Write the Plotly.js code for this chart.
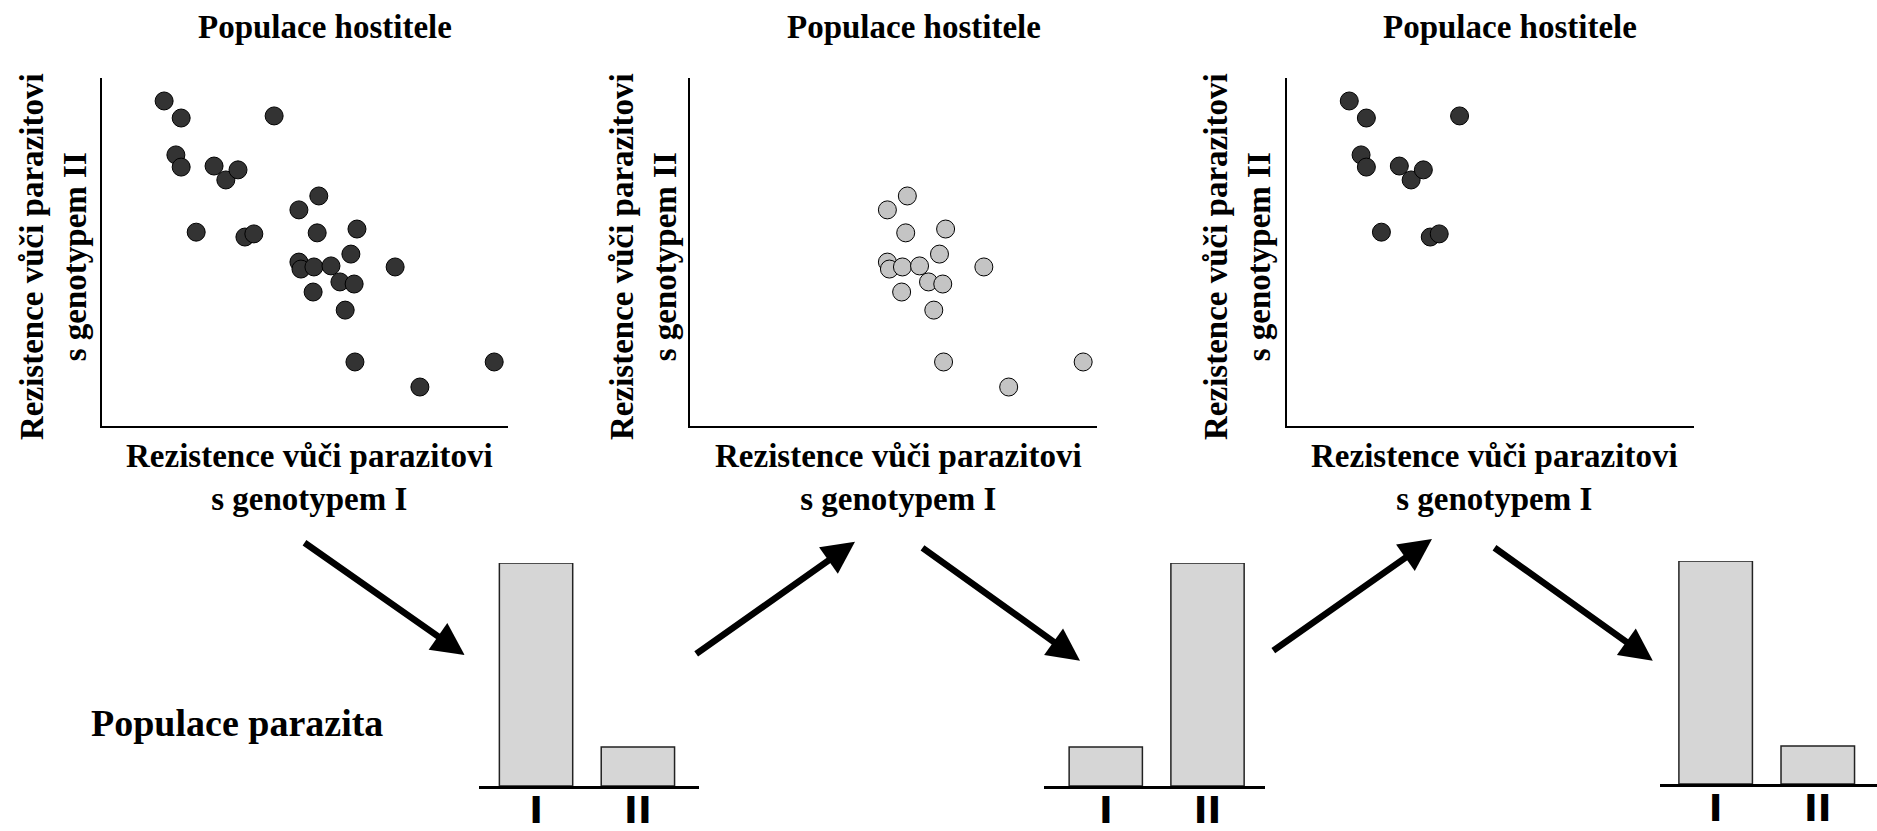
<!DOCTYPE html>
<html><head><meta charset="utf-8">
<script src="https://cdn.plot.ly/plotly-3.0.1.min.js"></script>
<style>html,body{margin:0;padding:0;background:#fff;overflow:hidden}</style>
</head><body><div id="chart" style="width:1877px;height:831px"></div>
<script>
// ---- data ----
// host individuals resistant mostly to parasite genotype II (upper-left cluster)
const hostA_x = [15.3, 19.5, 42.4, 18.2, 19.5, 27.6, 30.5, 33.5, 23.2, 35.2, 37.4];
const hostA_y = [93.4, 88.5, 89.1, 77.9, 74.4, 74.7, 70.7, 73.6, 55.7, 54.3, 55.2];
// host individuals resistant mostly to parasite genotype I (lower-right cluster)
const hostB_x = [53.4, 48.5, 53.0, 62.8, 61.3, 48.5, 49.0, 52.2, 56.4, 58.6, 62.1, 72.2, 52.0, 59.9, 62.3, 96.6, 78.3];
const hostB_y = [66.1, 62.1, 55.5, 56.6, 49.4, 47.1, 45.1, 45.7, 46.0, 41.4, 40.8, 45.7, 38.5, 33.3, 18.4, 18.4, 11.2];
// parasite genotype frequencies
const genotypes = ['I', 'II'];
const parasite1 = [100, 17.5];
const parasite2 = [17.5, 100];
const parasite3 = [100, 17];
// texts
const panelTitle = 'Populace hostitele';
const xTitle = 'Rezistence vůči parazitovi<br>s genotypem I';
const yTitle = 'Rezistence vůči parazitovi<br>s genotypem II';
const parasiteLabel = 'Populace parazita';

// ---- layout helpers ----
const W = 1877, H = 831;
const px = v => v / W;
const py = v => 1 - v / H;
const SERIF = 'Liberation Serif, Times New Roman, serif';
const SANS = 'DejaVu Sans, Arial, sans-serif';
const DARK = '#333333', LIGHT = '#c4c4c4';

function scatter(xs, ys, color, n) {
  return {type: 'scatter', mode: 'markers', x: xs, y: ys,
    xaxis: 'x' + n, yaxis: 'y' + n, cliponaxis: false, hoverinfo: 'skip',
    marker: {size: 18, color: color, line: {color: '#000', width: 1}}};
}
function bars(vals, n) {
  return {type: 'bar', x: genotypes, y: vals, xaxis: 'x' + n, yaxis: 'y' + n,
    width: 0.72, hoverinfo: 'skip',
    marker: {color: '#d6d6d6', line: {color: '#222', width: 1.5}}};
}
const traces = [
  scatter(hostA_x.concat(hostB_x), hostA_y.concat(hostB_y), DARK, ''),
  scatter(hostB_x, hostB_y, LIGHT, '2'),
  scatter(hostA_x, hostA_y, DARK, '3'),
  bars(parasite1, '4'), bars(parasite2, '5'), bars(parasite3, '6')
];
traces[0].xaxis = 'x'; traces[0].yaxis = 'y';

function scAxisX(l, r, anchor) {
  return {domain: [px(l), px(r)], range: [0, 100], anchor: anchor, showline: true,
    linecolor: '#000', linewidth: 2, ticks: '', showticklabels: false,
    showgrid: false, zeroline: false, fixedrange: true};
}
function scAxisY(anchor) {
  return {domain: [py(426), py(78)], range: [0, 100], anchor: anchor, showline: true,
    linecolor: '#000', linewidth: 2, ticks: '', showticklabels: false,
    showgrid: false, zeroline: false, fixedrange: true};
}
function barAxisX(l, r, rng, anchor) {
  return {domain: [px(l), px(r)], range: rng, anchor: anchor, type: 'category',
    showline: true, linecolor: '#000', linewidth: 3, ticks: '', showgrid: false,
    zeroline: false, fixedrange: true, ticklabelstandoff: -10,
    tickfont: {family: SANS, size: 37, color: '#000', weight: 'bold'}};
}
function barAxisY(bottom, top, anchor) {
  return {domain: [py(bottom), py(top)], range: [0, 100], anchor: anchor,
    visible: false, showgrid: false, zeroline: false, fixedrange: true};
}

const ann = [];
const titleX = [325, 914, 1510];
const xTitleX = [309, 898, 1494];
const yTitleX = [53, 643, 1237];
for (let i = 0; i < 3; i++) {
  ann.push({text: '<b>' + panelTitle + '</b>', xref: 'paper', yref: 'paper',
    x: px(titleX[i]), y: py(27), xanchor: 'center', yanchor: 'middle', showarrow: false,
    font: {family: SERIF, size: 33, color: '#000'}});
  ann.push({text: '<b>' + xTitle + '</b>', xref: 'paper', yref: 'paper',
    x: px(xTitleX[i]), y: py(477), xanchor: 'center', yanchor: 'middle', showarrow: false,
    font: {family: SERIF, size: 33, color: '#000'}});
  ann.push({text: '<b>' + yTitle + '</b>', xref: 'paper', yref: 'paper', textangle: -90,
    x: px(yTitleX[i]), y: py(257), xanchor: 'center', yanchor: 'middle', showarrow: false,
    font: {family: SERIF, size: 33, color: '#000'}});
}
ann.push({text: '<b>' + parasiteLabel + '</b>', xref: 'paper', yref: 'paper',
  x: px(89), y: py(723), xanchor: 'left', yanchor: 'middle', showarrow: false,
  font: {family: SERIF, size: 38, color: '#000'}});

const arrows = [
  [303, 541.7, 464.6, 655],
  [694.7, 655, 855, 541.7],
  [921, 546.7, 1080, 660.7],
  [1271.8, 651.7, 1432, 539],
  [1493, 546.7, 1652.8, 660.7]
];
arrows.forEach(a => ann.push({text: '', xref: 'paper', yref: 'paper',
  x: px(a[2]), y: py(a[3]), ax: a[0] - a[2], ay: a[1] - a[3],
  showarrow: true, arrowhead: 2, arrowsize: 1, arrowwidth: 6.5, arrowcolor: '#000',
  standoff: 0, startstandoff: 0}));

const layout = {
  width: W, height: H, margin: {l: 0, r: 0, t: 0, b: 0},
  paper_bgcolor: '#fff', plot_bgcolor: 'rgba(0,0,0,0)', showlegend: false,
  xaxis: scAxisX(102, 508, 'y'), yaxis: scAxisY('x'),
  xaxis2: scAxisX(690, 1097, 'y2'), yaxis2: scAxisY('x2'),
  xaxis3: scAxisX(1287, 1694, 'y3'), yaxis3: scAxisY('x3'),
  xaxis4: barAxisX(479, 699, [-0.56, 1.6], 'y4'), yaxis4: barAxisY(786, 563, 'x4'),
  xaxis5: barAxisX(1043.7, 1264.5, [-0.61, 1.56], 'y5'), yaxis5: barAxisY(786, 563, 'x5'),
  xaxis6: barAxisX(1659.5, 1877, [-0.55, 1.58], 'y6'), yaxis6: barAxisY(784, 561, 'x6'),
  annotations: ann
};
Plotly.newPlot('chart', traces, layout, {staticPlot: true, displayModeBar: false});
</script>
</body></html>
